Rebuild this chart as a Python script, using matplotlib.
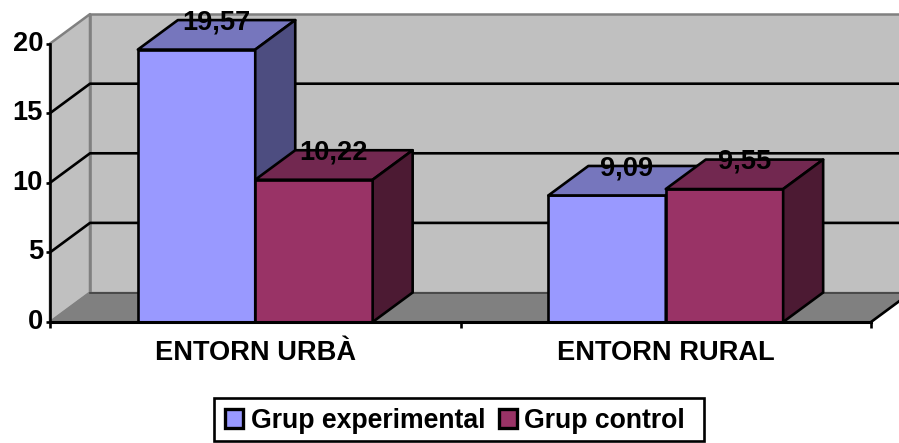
import matplotlib
matplotlib.use('Agg')
import matplotlib.pyplot as plt
from matplotlib.patches import Patch, Polygon, Rectangle

categories = ['ENTORN URBÀ', 'ENTORN RURAL']
experimental = [19.57, 9.09]
control = [10.22, 9.55]
y_ticks = [0, 5, 10, 15, 20]

W, H = 899, 443
PX_X = 410.5   # pixels per category
PX_Y = 13.92   # pixels per value unit
X0, Y0 = 50, 322
DX = 40 / PX_X
DY = 29.5 / PX_Y
BAR_W = 0.286
LW = 1.9
FS = 19.6
LEG_FS = 19.2

COLORS = {
    'exp': ('#9999FF', '#7676BD', '#4D4D80'),
    'ctl': ('#993366', '#722850', '#4C1A33'),
}


def poly(ax, pts, face, edge='black', lw=LW, z=2):
    ax.add_patch(Polygon(pts, closed=True, facecolor=face, edgecolor=edge,
                         linewidth=lw, joinstyle='round', zorder=z))


def bar3d(ax, x, val, colors):
    front, top, side = colors
    x2 = x + BAR_W
    poly(ax, [(x, 0), (x2, 0), (x2, val), (x, val)], front)
    poly(ax, [(x, val), (x2, val), (x2 + DX, val + DY), (x + DX, val + DY)], top)
    poly(ax, [(x2, 0), (x2 + DX, DY), (x2 + DX, val + DY), (x2, val)], side)
    ax.text(x + BAR_W / 2 + DX / 2, val + DY - 0.17, f'{val:.2f}'.replace('.', ','),
            ha='center', va='center', fontsize=FS, fontweight='bold', zorder=4)


plt.rcParams['font.family'] = ['Liberation Sans', 'DejaVu Sans']

fig = plt.figure(figsize=(W / 100, H / 100), dpi=100)
ax = fig.add_axes([0, 0, 1, 1])
ax.set_xlim(-X0 / PX_X, (W - X0) / PX_X)
ax.set_ylim(-(H - Y0) / PX_Y, Y0 / PX_Y)
ax.patch.set_alpha(0)

# walls and floor
far = 2 + DX + 0.2
poly(ax, [(DX, DY), (far, DY), (far, 20 + DY), (DX, 20 + DY)], '#C0C0C0', '#808080', 1.8, 1)
poly(ax, [(0, 0), (DX, DY), (DX, 20 + DY), (0, 20)], '#C0C0C0', '#808080', 1.8, 1)
poly(ax, [(0, 0), (2, 0), (2 + DX, DY), (DX, DY)], '#808080', '#808080', 1.0, 1)
ax.plot([2, 2 + DX], [0, DY], color='black', lw=LW, zorder=1.5)

# gridlines on back and side wall
for t in y_ticks[1:-1]:
    ax.plot([0, DX, far], [t, t + DY, t + DY], color='black', lw=LW, zorder=1.5)
ax.plot([DX, far], [DY, DY], color='#404040', lw=1.2, zorder=1.5)

# bars
for i in range(len(categories)):
    bar3d(ax, i + 0.5 - BAR_W, experimental[i], COLORS['exp'])
    bar3d(ax, i + 0.5, control[i], COLORS['ctl'])

# axes
for s in ['top', 'right']:
    ax.spines[s].set_visible(False)
ax.spines['left'].set_position(('data', 0))
ax.spines['left'].set_bounds(0, 20)
ax.spines['bottom'].set_position(('data', 0))
ax.spines['bottom'].set_bounds(0, 2)
ax.spines['left'].set_linewidth(LW)
ax.spines['bottom'].set_linewidth(LW + 0.3)
ax.set_yticks(y_ticks)
ax.set_yticklabels([str(t) for t in y_ticks], fontsize=FS, fontweight='bold')
ax.set_xticks([0, 1, 2])
ax.set_xticklabels([])
ax.set_xticks([0.5, 1.5], minor=True)
ax.set_xticklabels(categories, minor=True, fontsize=FS, fontweight='bold')
ax.tick_params(axis='y', length=3, width=LW, pad=2)
ax.tick_params(axis='x', which='major', length=4, width=LW)
ax.tick_params(axis='x', which='minor', length=0, pad=13)
for lab in ax.get_yticklabels():
    lab.set_verticalalignment('center')

# legend frame is wider than the entries on the right side
fig.add_artist(Rectangle((214 / W, 1 - 441 / H), 490 / W, 43 / H, transform=fig.transFigure,
                         facecolor='white', edgecolor='black', linewidth=LW))
handles = [Patch(facecolor=COLORS['exp'][0], edgecolor='black', linewidth=LW + 0.5, label='Grup experimental'),
           Patch(facecolor=COLORS['ctl'][0], edgecolor='black', linewidth=LW + 0.5, label='Grup control')]
fig.legend(handles=handles, ncol=2, loc='center', bbox_to_anchor=(455 / W, 1 - 421 / H),
           prop={'weight': 'bold', 'size': LEG_FS}, frameon=False,
           handlelength=0.68, handleheight=0.68,
           handletextpad=0.28, columnspacing=0.5, borderpad=0.34, borderaxespad=0)

fig.savefig('out.png', dpi=100)
